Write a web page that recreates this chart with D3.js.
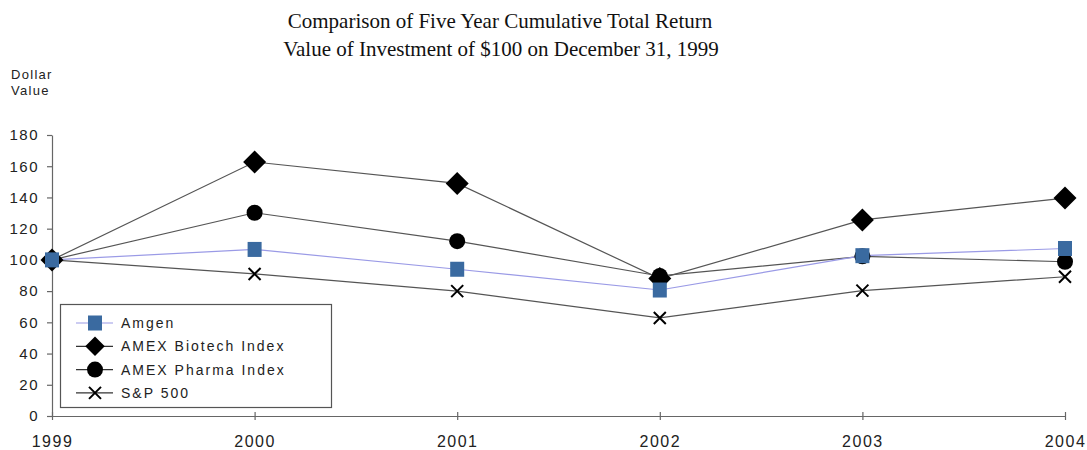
<!DOCTYPE html>
<html>
<head>
<meta charset="utf-8">
<script src="https://cdn.jsdelivr.net/npm/d3@7"></script>
<style>
  body { margin: 0; background: #fff; }
  svg { display: block; }
</style>
</head>
<body>
<div id="chart"></div>
<script>
// Data
const years = ['1999', '2000', '2001', '2002', '2003', '2004'];
const amgen = [100, 106.7, 94, 80.7, 102.7, 107.3];
const biotech = [100, 162.7, 149, 88, 125.6, 139.6];
const pharma = [100, 130.2, 112, 89.7, 102.3, 98.8];
const sp500 = [100, 91, 80, 62.8, 80.3, 89.2];
const yTicks = [0, 20, 40, 60, 80, 100, 120, 140, 160, 180];
const seriesNames = ['Amgen', 'AMEX Biotech Index', 'AMEX Pharma Index', 'S&P 500'];

const width = 1087, height = 450;

const svg = d3.select('#chart')
    .append('svg')
    .attr('width', width)
    .attr('height', height);

const x = d3.scalePoint().domain(years).range([52, 1065]);
const y = d3.scaleLinear().domain([0, 180]).range([416, 135]);

// Title
svg.append('text')
    .attr('x', 500).attr('y', 28)
    .attr('text-anchor', 'middle')
    .style('font-family', '"Liberation Serif", "Times New Roman", serif')
    .style('font-size', '21px')
    .style('fill', '#111')
    .text('Comparison of Five Year Cumulative Total Return');
svg.append('text')
    .attr('x', 501).attr('y', 56)
    .attr('text-anchor', 'middle')
    .style('font-family', '"Liberation Serif", "Times New Roman", serif')
    .style('font-size', '21px')
    .style('fill', '#111')
    .text('Value of Investment of $100 on December 31, 1999');

// Y axis title
const sans = '"Liberation Sans", Arial, sans-serif';
svg.append('text').attr('x', 11).attr('y', 79)
    .style('font-family', sans).style('font-size', '13px')
    .style('letter-spacing', '1.3px').style('fill', '#222')
    .text('Dollar');
svg.append('text').attr('x', 11).attr('y', 95)
    .style('font-family', sans).style('font-size', '13px')
    .style('letter-spacing', '1.3px').style('fill', '#222')
    .text('Value');

// Axes
const yAxis = svg.append('g')
    .attr('transform', 'translate(52,0)')
    .call(d3.axisLeft(y).tickValues(yTicks).tickSize(5).tickSizeOuter(0).tickPadding(8));
yAxis.selectAll('text')
    .style('font-family', sans).style('font-size', '15px')
    .style('letter-spacing', '1.5px').style('fill', '#222');

const xAxis = svg.append('g')
    .attr('transform', 'translate(0,416)')
    .call(d3.axisBottom(x).tickSize(4).tickSizeOuter(0).tickPadding(16));
xAxis.selectAll('.tick line').attr('y1', -4);
xAxis.selectAll('text')
    .style('font-family', sans).style('font-size', '16px')
    .style('letter-spacing', '1.5px').style('fill', '#222');

svg.selectAll('.domain, .tick line').attr('stroke', '#666').attr('stroke-width', 1.2);

// Series, drawn bottom to top
const series = [
    { name: seriesNames[1], values: biotech, line: '#555', marker: 'diamond' },
    { name: seriesNames[2], values: pharma, line: '#555', marker: 'circle' },
    { name: seriesNames[3], values: sp500, line: '#555', marker: 'cross' },
    { name: seriesNames[0], values: amgen, line: '#9a9ae6', marker: 'square' }
];

function drawMarker(g, type) {
    if (type === 'diamond') {
        g.append('path').attr('d', 'M0,-11.5L11.5,0L0,11.5L-11.5,0Z').attr('fill', '#000');
    } else if (type === 'circle') {
        g.append('circle').attr('r', 8).attr('fill', '#000');
    } else if (type === 'square') {
        g.append('rect').attr('x', -7).attr('y', -7.5).attr('width', 14).attr('height', 15)
            .attr('fill', '#3a6aa0');
    } else {
        g.append('path').attr('d', 'M-6,-6L6,6M-6,6L6,-6')
            .attr('stroke', '#000').attr('stroke-width', 2).attr('fill', 'none');
    }
}

const line = d3.line()
    .x((d, i) => x(years[i]))
    .y(d => y(d));

series.forEach(s => {
    svg.append('path')
        .datum(s.values)
        .attr('d', line)
        .attr('fill', 'none')
        .attr('stroke', s.line)
        .attr('stroke-width', 1.2);
});

series.forEach(s => {
    s.values.forEach((v, i) => {
        const g = svg.append('g').attr('transform', `translate(${x(years[i])},${y(v)})`);
        drawMarker(g, s.marker);
    });
});

// Legend
const legendItems = [
    { name: seriesNames[0], line: '#9a9ae6', marker: 'square' },
    { name: seriesNames[1], line: '#333', marker: 'diamond' },
    { name: seriesNames[2], line: '#333', marker: 'circle' },
    { name: seriesNames[3], line: '#333', marker: 'cross' }
];

svg.append('rect')
    .attr('x', 60.5).attr('y', 304.5)
    .attr('width', 271).attr('height', 103)
    .attr('fill', '#fff')
    .attr('stroke', '#555').attr('stroke-width', 1.2);

const legend = svg.selectAll('.legend')
    .data(legendItems)
    .enter()
    .append('g')
    .attr('class', 'legend')
    .attr('transform', (d, i) => `translate(95, ${323 + i * 23.3})`);

legend.append('line')
    .attr('x1', -19).attr('x2', 18)
    .attr('stroke', d => d.line).attr('stroke-width', 1.2);

legend.each(function(d) {
    const g = d3.select(this).append('g').attr('transform', d.marker === 'diamond' ? 'scale(0.85)' : null);
    drawMarker(g, d.marker);
});

legend.append('text')
    .attr('x', 26).attr('y', 5)
    .style('font-family', sans).style('font-size', '14px')
    .style('letter-spacing', '2px').style('fill', '#222')
    .text(d => d.name);
</script>
</body>
</html>
